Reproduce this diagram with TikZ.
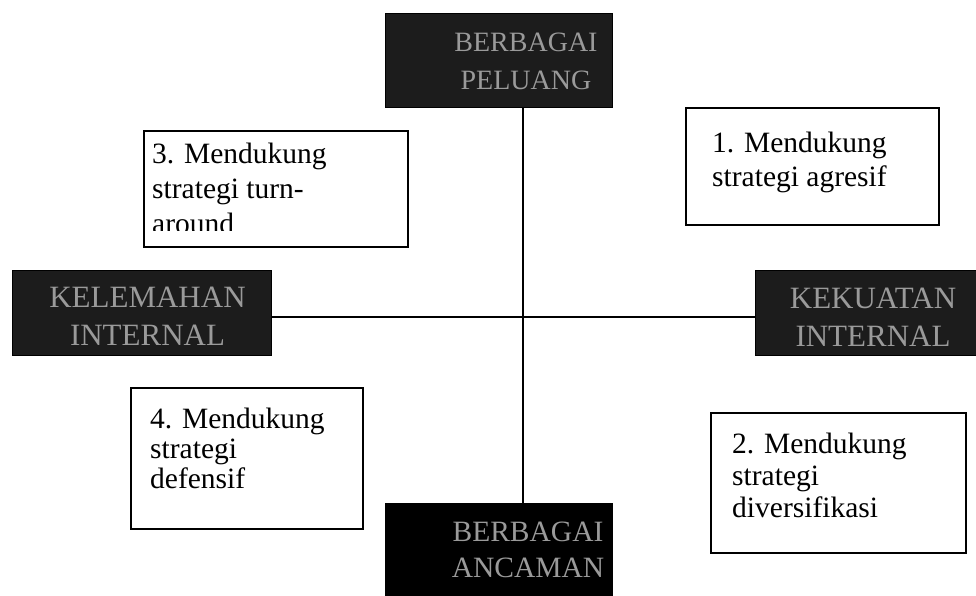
\documentclass[tikz,border=0pt]{standalone}
\usepackage{fontspec}
\setmainfont{Liberation Serif}

\definecolor{boxdark}{HTML}{1C1C1C}
\definecolor{boxletter}{HTML}{9A9A9A}

\tikzset{
  darkbox/.style={draw=black, fill=boxdark, inner sep=0pt},
  darklabel/.style={text=boxletter, align=center, inner sep=0pt,
    font=\fontsize{31}{38}\selectfont},
  stratbox/.style={draw=black, line width=1.6pt, fill=white, inner sep=0pt, anchor=north west},
  strattext/.style={align=left, inner sep=0pt, anchor=north west},
  axis/.style={line width=1.5pt}
}

\begin{document}
\begin{tikzpicture}[x=1pt,y=-1pt]
\useasboundingbox (0,0) rectangle (976,596);

% the four dark boxes of the axes
\node[darkbox, minimum width=227pt, minimum height=94pt] (peluang) at (498.5,60) {};
\node[darkbox, fill=black, minimum width=227pt, minimum height=94pt] (ancaman) at (498.5,550) {};
\node[darkbox, minimum width=259pt, minimum height=85pt] (lemah) at (141.5,312.5) {};
\node[darkbox, minimum width=230pt, minimum height=85pt] (kuat) at (870,312.5) {};

\node[darklabel, font=\fontsize{28}{38}\selectfont] (peluangtxt) at ([xshift=27.5pt,yshift=-1pt]peluang.center) {BERBAGAI\\PELUANG};
\node[darklabel, font=\fontsize{29.5}{36}\selectfont] (ancamantxt) at ([xshift=29.5pt]ancaman.center) {BERBAGAI\\ANCAMAN};
\node[darklabel] (lemahtxt) at ([xshift=6pt,yshift=-4pt]lemah.center) {KELEMAHAN\\INTERNAL};
\node[darklabel] (kuattxt) at ([xshift=3pt,yshift=-4.5pt]kuat.center) {KEKUATAN\\INTERNAL};

% crossing axes
\coordinate (mid) at (523,317);
\draw[axis] (mid |- peluang.south) -- (mid |- ancaman.north);
\draw[axis] (lemah.east |- mid) -- (kuat.west |- mid);

% the four quadrants
\node[stratbox, minimum width=253pt, minimum height=117pt] (agresif) at (685,107) {};
\node[strattext, font=\fontsize{29.5}{34}\selectfont] (agresiftxt) at ([xshift=27pt,yshift=-25pt]agresif.north west)
  {1. Mendukung\\strategi agresif};

\node[stratbox, minimum width=255pt, minimum height=140pt] (diversi) at (710,412) {};
\node[strattext, font=\fontsize{29.5}{32}\selectfont] (diversitxt) at ([xshift=22pt,yshift=-20.5pt]diversi.north west)
  {2. Mendukung\\strategi\\diversifikasi};

\node[stratbox, minimum width=264pt, minimum height=116pt] (turn) at (143,130) {};
\begin{scope}
\clip (turn.north west) rectangle ([yshift=17pt]turn.south east);
\node[strattext, font=\fontsize{29.5}{35}\selectfont] (turntxt) at ([xshift=9pt,yshift=-12.5pt]turn.north west)
  {3. Mendukung\\strategi turn-\\around};
\end{scope}

\node[stratbox, minimum width=232pt, minimum height=141pt] (defensif) at (130,387) {};
\node[strattext, font=\fontsize{29.5}{30}\selectfont] (defensiftxt) at ([xshift=20pt,yshift=-20.5pt]defensif.north west)
  {4. Mendukung\\strategi\\defensif};

\end{tikzpicture}
\end{document}
